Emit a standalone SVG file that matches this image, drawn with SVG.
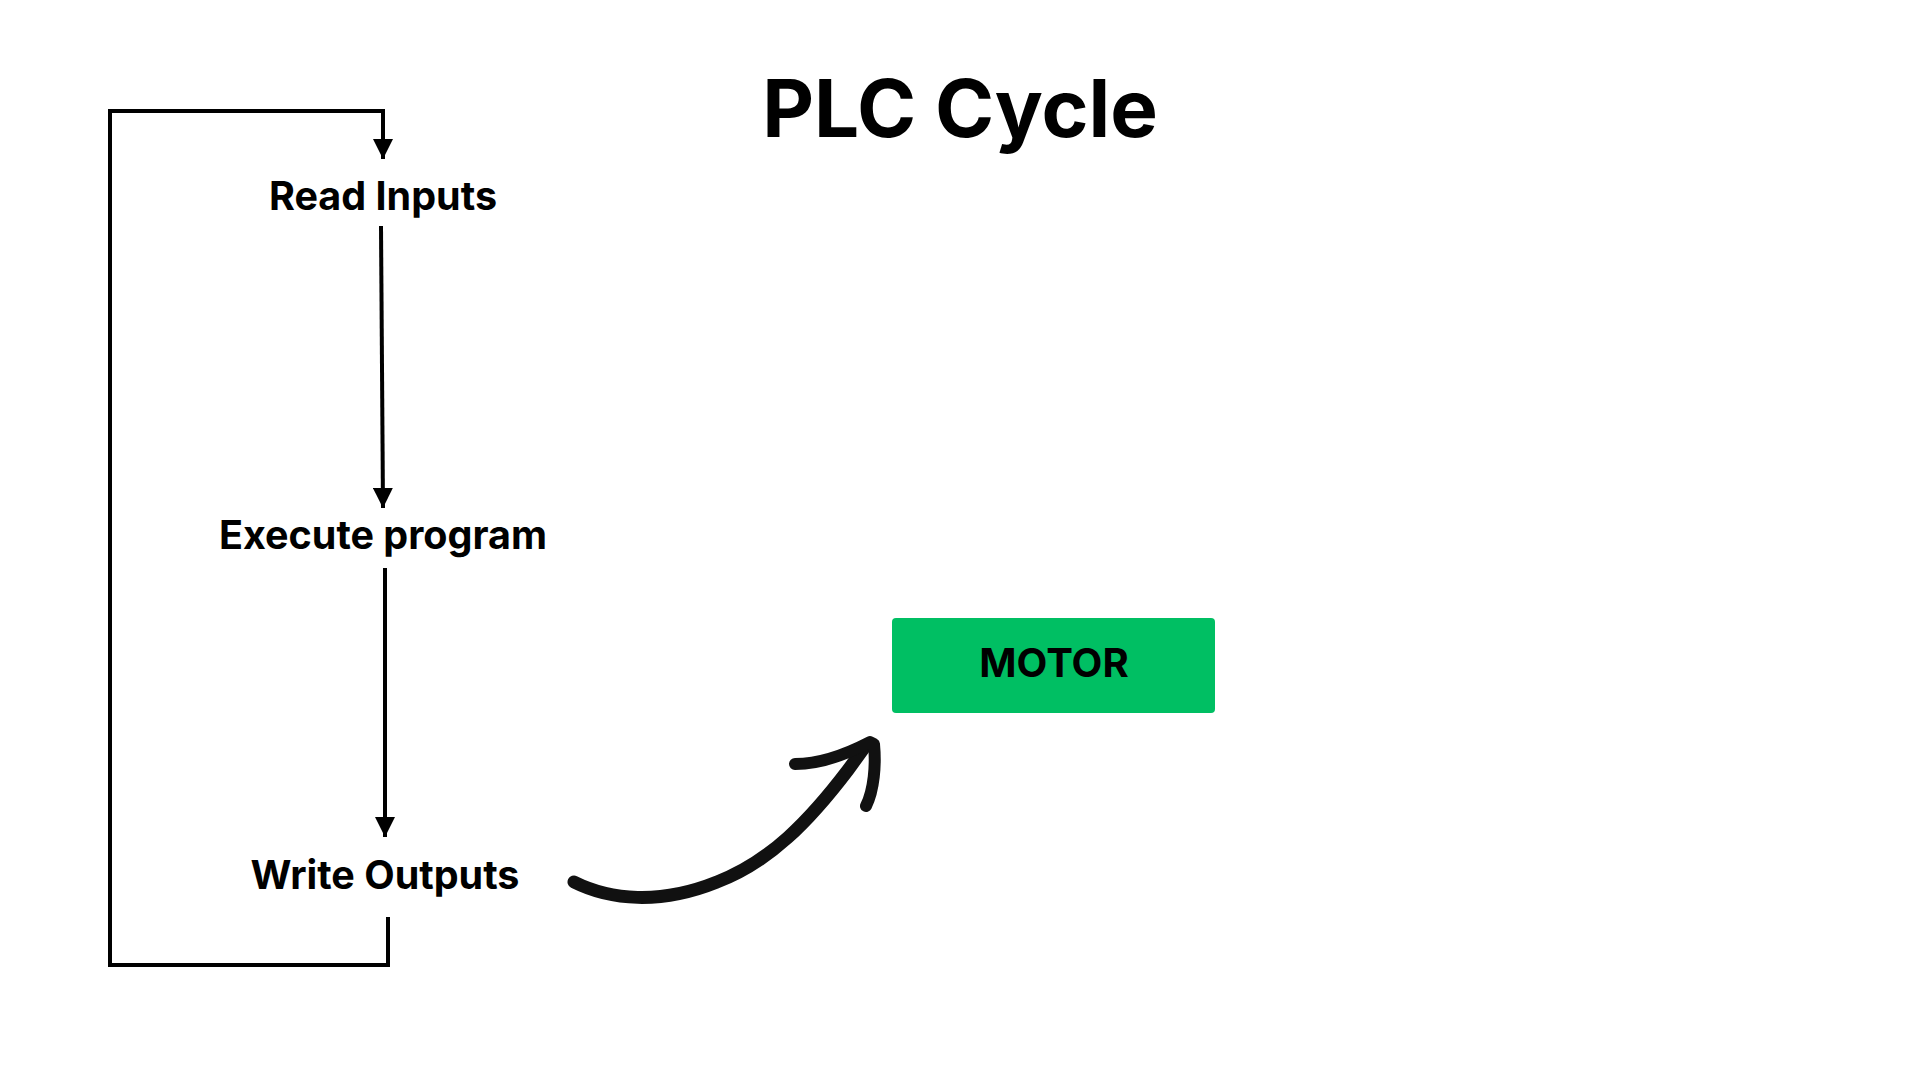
<svg xmlns="http://www.w3.org/2000/svg" width="1920" height="1080" viewBox="0 0 1920 1080">
<style>
.lbl{font-family:Inter,"Liberation Sans",sans-serif;font-weight:700;fill:#000;text-anchor:middle}
.conn{fill:none;stroke:#000;stroke-width:4}
</style>
<defs>
<marker id="ah" viewBox="0 0 10 10" refX="10" refY="5" markerWidth="5" markerHeight="5" markerUnits="strokeWidth" orient="auto">
<path d="M0,0 L10,5 L0,10 Z" fill="#000"/>
</marker>
</defs>
<rect width="1920" height="1080" fill="#fff"/>
<text class="lbl" x="960" y="137" font-size="80">PLC Cycle</text>
<g id="read-inputs"><text class="lbl" x="383" y="210" font-size="39.5">Read Inputs</text></g>
<g id="execute-program"><text class="lbl" x="383" y="549" font-size="39.5">Execute program</text></g>
<g id="write-outputs"><text class="lbl" x="385" y="889" font-size="39.5">Write Outputs</text></g>
<g id="motor">
<rect x="892" y="618" width="323" height="95" rx="4" fill="#00BF63"/>
<text class="lbl" x="1054" y="677" font-size="40">MOTOR</text>
</g>
<g id="connectors">
<path class="conn" d="M381,226 L383,508" marker-end="url(#ah)"/>
<path class="conn" d="M385,568 L385,837" marker-end="url(#ah)"/>
<path class="conn" d="M388,917 L388,965 L110,965 L110,111 L383,111 L383,159" marker-end="url(#ah)"/>
<path d="M574,882 C610,900 660,905 717,882 C770,862 810,820 848,770 L864,748" fill="none" stroke="#111" stroke-width="13" stroke-linecap="round"/>
<path d="M795,764 C820,764 845,755 870,742 L874,744 C876,765 874,790 866,806" fill="none" stroke="#111" stroke-width="12" stroke-linecap="round" stroke-linejoin="round"/>
</g>
</svg>
